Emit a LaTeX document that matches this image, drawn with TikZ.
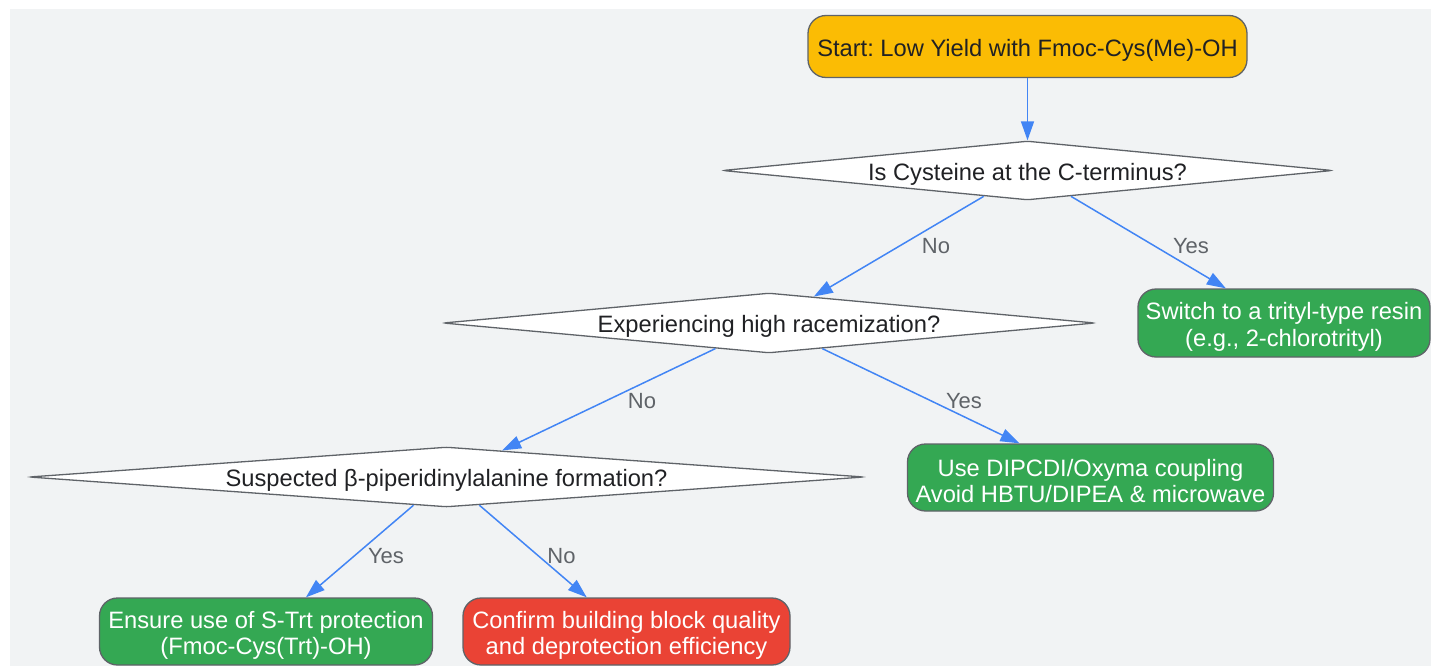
\documentclass[tikz,border=0pt]{standalone}
\usepackage{fontspec}
\setmainfont{Liberation Sans}
\frenchspacing
\usetikzlibrary{shapes.geometric,arrows.meta}
\definecolor{bg}{HTML}{F1F3F4}
\definecolor{edgeblue}{HTML}{4285F4}
\definecolor{bord}{HTML}{5F6368}
\definecolor{ystart}{HTML}{FBBC04}
\definecolor{gbox}{HTML}{34A853}
\definecolor{rbox}{HTML}{EA4335}
\definecolor{dtext}{HTML}{202124}
\definecolor{ltext}{HTML}{5F6368}
\newcommand{\mystrut}{\rule{0pt}{24.5pt}}
\begin{document}
\begin{tikzpicture}[x=1pt,y=-1pt,
  every node/.style={font=\fontsize{23.7}{26.5}\selectfont},
  boxbase/.style={draw=bord, line width=1.3pt, rounded corners=18pt, inner sep=0pt, align=center},
  startbox/.style={boxbase, fill=ystart, text=dtext, minimum width=439pt, minimum height=62pt},
  okbox/.style={boxbase, fill=gbox, text=white},
  badbox/.style={boxbase, fill=rbox, text=white},
  decision/.style={diamond, draw=bord, line width=1.3pt, fill=white, text=dtext, inner sep=0pt, rounded corners=3pt, text height=21pt, text depth=2pt},
  flow/.style={draw=edgeblue, line width=1.5pt, -{Triangle[length=19pt,width=13pt]}},
  lbl/.style={text=ltext, font=\fontsize{22}{24}\selectfont}
]
\useasboundingbox (0,0) rectangle (1431,666);
\fill[bg] (10,9) rectangle (1431,666);

\node[startbox] (start) at (1027.5,46.5) {\mystrut Start: Low Yield with Fmoc-Cys(Me)-OH};
\node[decision, minimum width=610pt, minimum height=59pt, aspect=10.3] (d1) at (1027.5,170.5) {Is Cysteine at the C-terminus?};
\node[okbox, minimum width=292pt, minimum height=68pt] (trityl) at (1284,323) {\mystrut Switch to a trityl-type resin\\(e.g., 2-chlorotrityl)};
\node[decision, minimum width=652pt, minimum height=60pt, aspect=10.9] (d2) at (769,323) {Experiencing high racemization?};
\node[okbox, minimum width=366pt, minimum height=67pt] (dipcdi) at (1090.5,477.5) {\mystrut Use DIPCDI/Oxyma coupling\\Avoid HBTU/DIPEA \& microwave};
\node[decision, minimum width=835pt, minimum height=60pt, aspect=13.9] (d3) at (446.5,477) {Suspected β-piperidinylalanine formation?};
\node[okbox, minimum width=333pt, minimum height=67pt] (trt) at (266,631.5) {\mystrut Ensure use of S-Trt protection\\(Fmoc-Cys(Trt)-OH)};
\node[badbox, minimum width=327pt, minimum height=67pt] (check) at (626.5,631.5) {\mystrut Confirm building block quality\\and deprotection efficiency};

\draw[flow] (start) -- (d1);
\draw[flow] (d1) -- (d2) node[lbl] at (936,246) {No};
\draw[flow] (d1) -- (trityl) node[lbl] at (1191,246) {Yes};
\draw[flow] (d2) -- (d3) node[lbl] at (642,401) {No};
\draw[flow] (d2) -- (dipcdi) node[lbl] at (964,401) {Yes};
\draw[flow] (d3) -- (trt) node[lbl] at (386,556) {Yes};
\draw[flow] (d3) -- (check) node[lbl] at (561.5,556) {No};
\end{tikzpicture}
\end{document}
